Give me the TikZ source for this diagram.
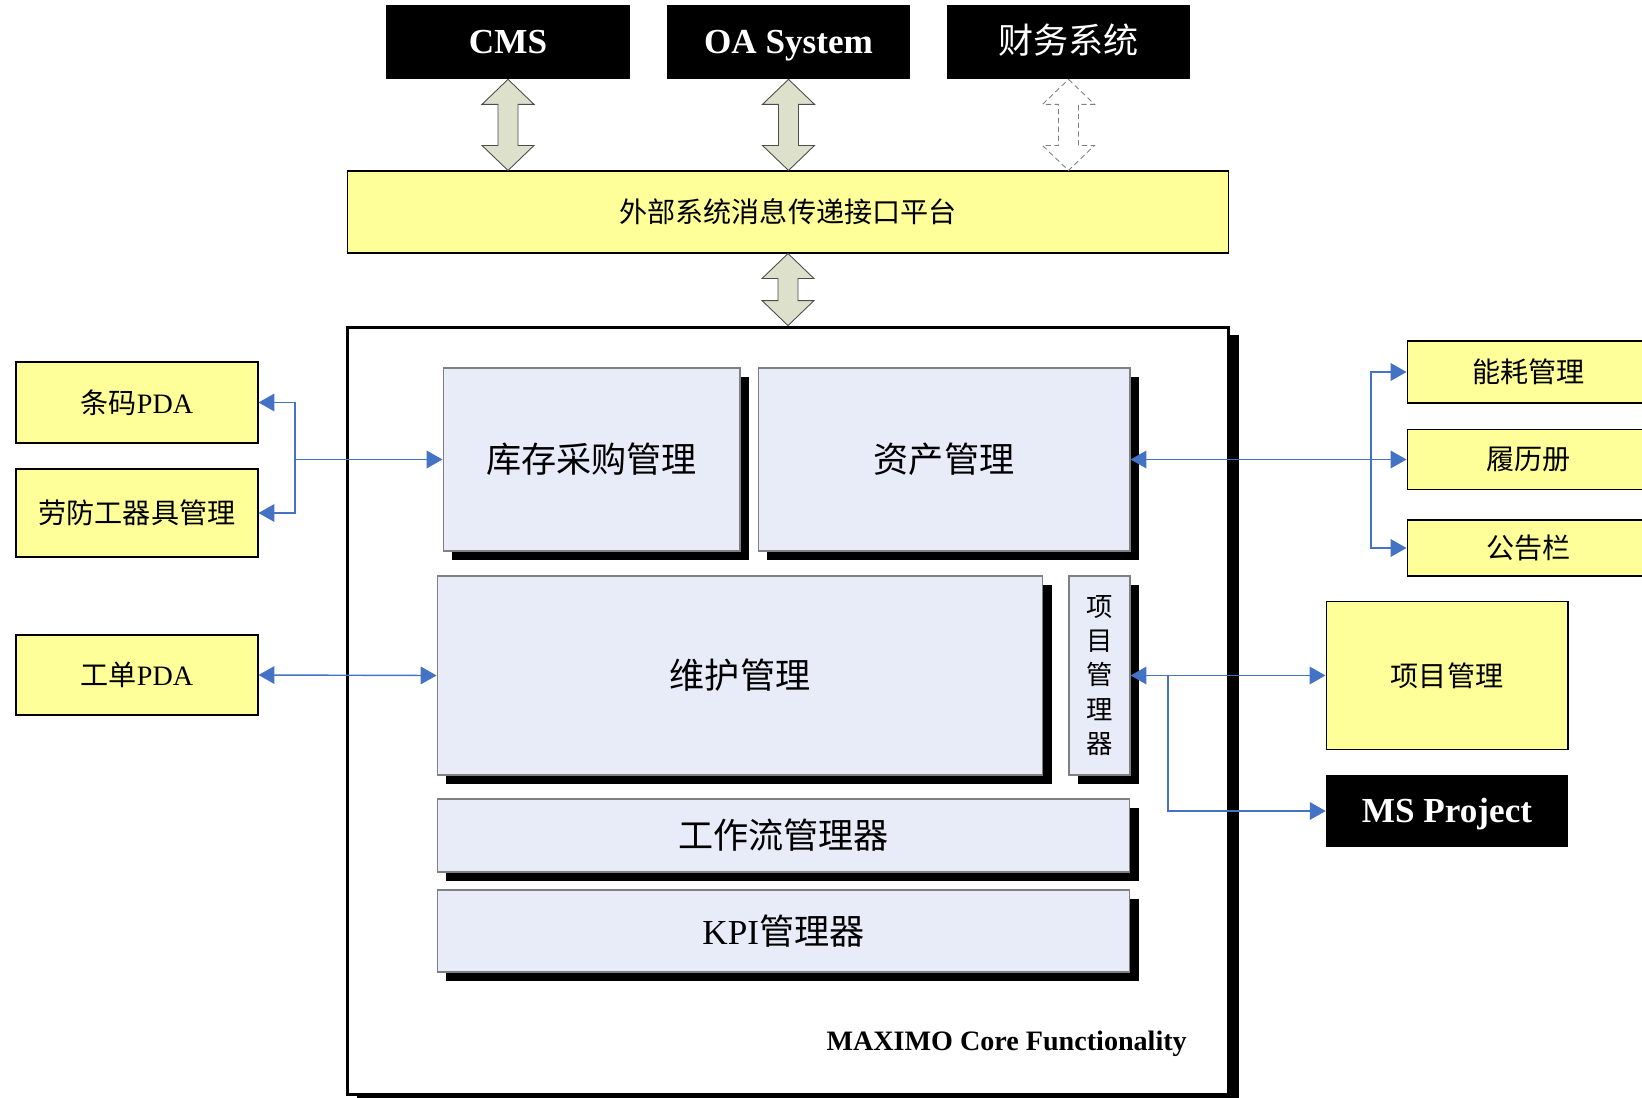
\documentclass[tikz,border=0pt]{standalone}
\usepackage{fontspec}
\setmainfont{Liberation Serif}
\newfontfamily\cjk{Noto Sans CJK SC}
\usepackage{tikz}
\usetikzlibrary{calc,shadows}
\usetikzlibrary{arrows.meta}
\definecolor{padyellow}{HTML}{FFFF99}
\definecolor{modblue}{HTML}{E8ECF8}
\definecolor{linkblue}{HTML}{4472C4}
\definecolor{arrowgray}{HTML}{DDE0CB}
\tikzset{>={Triangle[length=9pt,width=10pt]}}
\tikzset{
  extbox/.style={fill=padyellow, draw=black, line width=0.6pt, inner sep=0pt,
    font=\cjk\fontsize{16}{18}\selectfont},
  sysbox/.style={fill=black, text=white, inner sep=0pt,
    text height=15pt, text depth=2pt,
    font=\bfseries\fontsize{20}{22}\selectfont},
  modbox/.style={fill=modblue, draw=gray, line width=0.6pt, inner sep=0pt,
    drop shadow={shadow xshift=0.18cm, shadow yshift=-0.18cm, fill=black, opacity=1},
    font=\cjk\fontsize{20}{22}\selectfont},
  link/.style={linkblue, line width=0.8pt},
  blockarrow/.style={fill=arrowgray, draw=black!70, line width=0.5pt},
}
% block double arrow from tip #2 down to tip #3
\newcommand{\dblarrow}[3][]{%
  \draw[blockarrow,#1] #2 -- ($#2+(26,25)$) -- ($#2+(10,25)$)
    -- ($#3+(10,-25)$) -- ($#3+(26,-25)$) -- #3 -- ($#3+(-26,-25)$)
    -- ($#3+(-10,-25)$) -- ($#2+(-10,25)$) -- ($#2+(-26,25)$) -- cycle;}

\begin{document}
\begin{tikzpicture}[x=0.02cm, y=-0.02cm]
\useasboundingbox (0,0) rectangle (1642,1098);

% --- MAXIMO frame ---
\node[draw, line width=1.7pt, fill=white, minimum width=17.64cm, minimum height=15.36cm,
  drop shadow={shadow xshift=0.2cm, shadow yshift=-0.16cm, fill=black, opacity=1}]
  (core) at (788,711) {};
\node[anchor=east, font=\bfseries\fontsize{16}{18}\selectfont] (maxlbl) at (1193,1044)
  {MAXIMO Core Functionality};

% --- external systems ---
\node[sysbox, minimum width=4.88cm, minimum height=1.48cm] (cms) at (508,42) {CMS};
\node[sysbox, minimum width=4.86cm, minimum height=1.48cm] (oa) at (788.5,42) {OA System};
\node[sysbox, minimum width=4.86cm, minimum height=1.48cm] (fin) at (1068.5,42)
  {\cjk\mdseries 财务系统};

% --- interface platform ---
\node[extbox, minimum width=17.64cm, minimum height=1.64cm] (plat) at (788,212)
  {外部系统消息传递接口平台};

% --- block arrows ---
\dblarrow{(cms.south)}{(cms.south |- plat.north)}
\dblarrow{(oa.south)}{(oa.south |- plat.north)}
\dblarrow[fill=white, draw=gray, densely dashed]{(fin.south)}{(fin.south |- plat.north)}
\dblarrow{(plat.south)}{(core.north)}

% --- core modules ---
\node[modbox, minimum width=5.94cm, minimum height=3.66cm] (stock) at (591.5,459.5) {库存采购管理};
\node[modbox, minimum width=7.44cm, minimum height=3.66cm] (asset) at (944,459.5) {资产管理};
\node[modbox, minimum width=12.12cm, minimum height=3.98cm] (maint) at (740,675.5) {维护管理};
\node[modbox, minimum width=1.22cm, minimum height=3.98cm, align=center,
  font=\cjk\fontsize{15}{19.5}\selectfont] (projmgr) at (1099.5,675.5) {项\\目\\管\\理\\器};
\node[modbox, minimum width=13.86cm, minimum height=1.46cm] (wflow) at (783.5,835.5) {工作流管理器};
\node[modbox, minimum width=13.86cm, minimum height=1.64cm] (kpi) at (783.5,931) {\textrm{KPI}管理器};

% --- left terminals ---
\node[extbox, minimum width=4.84cm, minimum height=1.62cm] (barcode) at (137,402.5) {条码\textrm{PDA}};
\node[extbox, minimum width=4.84cm, minimum height=1.76cm] (tools) at (137,513) {劳防工器具管理};
\node[extbox, minimum width=4.84cm, minimum height=1.6cm] (wopda) at (137,675) {工单\textrm{PDA}};

% --- right side ---
\node[extbox, minimum width=4.86cm, minimum height=1.24cm] (energy) at (1528.5,372) {能耗管理};
\node[extbox, minimum width=4.86cm, minimum height=1.2cm] (record) at (1528.5,459.5) {履历册};
\node[extbox, minimum width=4.86cm, minimum height=1.12cm] (board) at (1528.5,548) {公告栏};
\node[extbox, minimum width=4.84cm, minimum height=2.96cm] (proj) at (1447,675.5) {项目管理};
\node[sysbox, minimum width=4.84cm, minimum height=1.44cm] (msp) at (1447,811) {MS Project};

% --- links ---
\coordinate (lj) at (295,459.5);
\draw[link, <->] (barcode.east) -| (lj) |- (tools.east);
\draw[link, ->] (lj) -- (stock.west);
\draw[link, <->] (wopda.east) -- (maint.west);

\coordinate (rj) at (1371,459.5);
\draw[link, <->] (asset.east) -- (record.west);
\draw[link, ->] (rj) |- (energy.west);
\draw[link, ->] (rj) |- (board.west);

\coordinate (pj) at (1168,675.5);
\draw[link, <->] (projmgr.east) -- (proj.west);
\draw[link, ->] (pj) |- (msp.west);

\end{tikzpicture}
\end{document}
